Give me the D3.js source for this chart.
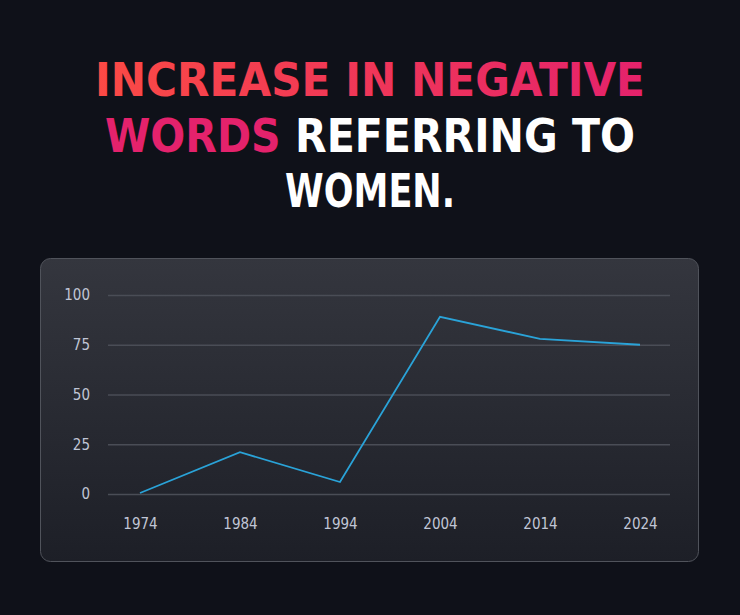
<!DOCTYPE html>
<html><head><meta charset="utf-8">
<script src="https://cdn.jsdelivr.net/npm/d3@7"></script>
<style>body{margin:0;background:#0f1119}</style>
</head><body>
<svg id="c" width="740" height="615"></svg>
<script>
const years = ["1974", "1984", "1994", "2004", "2014", "2024"];
const values = [0.5, 21, 6, 89, 78, 75];
const yTicks = [0, 25, 50, 75, 100];

const svg = d3.select("#c");
const defs = svg.append("defs");

const glow = defs.append("radialGradient").attr("id", "glow")
  .attr("cx", "50%").attr("cy", "0%").attr("r", "50%");
glow.append("stop").attr("offset", "0%").attr("stop-color", "#5a222a").attr("stop-opacity", 1);
glow.append("stop").attr("offset", "100%").attr("stop-color", "#0f1119").attr("stop-opacity", 0);

const tg = defs.append("linearGradient").attr("id", "tg")
  .attr("gradientUnits", "userSpaceOnUse").attr("x1", 95).attr("x2", 645).attr("y1", 0).attr("y2", 0);
tg.append("stop").attr("offset", "0%").attr("stop-color", "#fb4a45");
tg.append("stop").attr("offset", "100%").attr("stop-color", "#e4226c");

const cg = defs.append("linearGradient").attr("id", "cg")
  .attr("x1", 0).attr("x2", 0).attr("y1", 0).attr("y2", 1);
cg.append("stop").attr("offset", "0%").attr("stop-color", "#34363e");
cg.append("stop").attr("offset", "100%").attr("stop-color", "#1d1f27");

svg.append("rect").attr("width", 740).attr("height", 615).attr("fill", "#0f1119");
svg.append("ellipse").attr("cx", 370).attr("cy", -10).attr("rx", 260).attr("ry", 70).attr("fill", "url(#glow)");

// title
const title = svg.append("g")
  .style("font-family", "'DejaVu Sans Condensed', 'DejaVu Sans'")
  .style("font-weight", "bold").style("font-size", "46px")
  .attr("text-anchor", "middle");
title.append("text").attr("x", 370).attr("y", 96).attr("fill", "url(#tg)")
  .attr("textLength", 550).attr("lengthAdjust", "spacingAndGlyphs")
  .text("INCREASE IN NEGATIVE");
const l2 = title.append("text").attr("x", 370).attr("y", 152)
  .attr("textLength", 530).attr("lengthAdjust", "spacingAndGlyphs");
l2.append("tspan").attr("fill", "#e4226c").text("WORDS ");
l2.append("tspan").attr("fill", "#ffffff").text("REFERRING TO");
title.append("text").attr("x", 370).attr("y", 207).attr("fill", "#ffffff")
  .attr("textLength", 170).attr("lengthAdjust", "spacingAndGlyphs")
  .text("WOMEN.");

// card
svg.append("rect").attr("x", 40.5).attr("y", 258.5).attr("width", 658).attr("height", 303)
  .attr("rx", 10).attr("fill", "url(#cg)").attr("stroke", "#50535b").attr("stroke-width", 1);

const x = d3.scalePoint().domain(years).range([140, 640]);
const y = d3.scaleLinear().domain([0, 100]).range([494, 295]);

const yAxis = svg.append("g").attr("transform", "translate(108,0)")
  .call(d3.axisLeft(y).tickValues(yTicks).tickSize(-562).tickPadding(18));
yAxis.select(".domain").remove();
yAxis.selectAll("line").attr("stroke", "#4a4d56").attr("stroke-width", 1.5);

const xAxis = svg.append("g").attr("transform", "translate(0,494)")
  .call(d3.axisBottom(x).tickSize(0).tickPadding(24));
xAxis.select(".domain").remove();

svg.selectAll(".tick text")
  .attr("font-family", "'DejaVu Sans Condensed', 'DejaVu Sans'")
  .attr("font-size", 15).attr("fill", "#c0c6d6");

svg.append("path").datum(values)
  .attr("fill", "none").attr("stroke", "#2aa3d8").attr("stroke-width", 1.8)
  .attr("d", d3.line().x((d, i) => x(years[i])).y(d => y(d)));
</script>
</body></html>
